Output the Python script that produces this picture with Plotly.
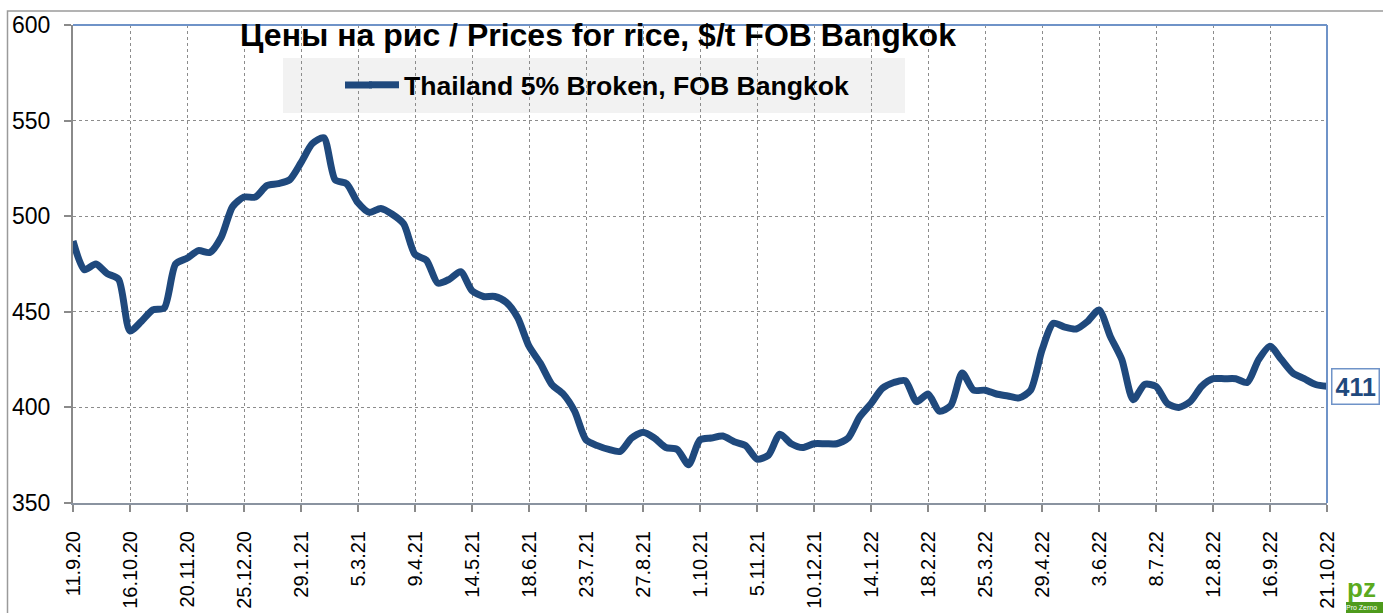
import pandas as pd
import plotly.graph_objects as go

# ---- data ----
start_date = "2020-09-11"
n_weeks = 111
prices = [487, 472, 475, 470, 467, 440, 445, 451, 452, 475,
          478, 482, 481, 489, 505, 510, 510, 516, 517, 519,
          528, 538, 541, 519, 517, 507, 502, 504, 501, 496,
          480, 477, 465, 467, 471, 461, 458, 458, 455, 447,
          432, 423, 412, 407, 398, 383, 380, 378, 377, 384,
          387, 384, 379, 378, 370, 383, 384, 385, 382, 380,
          373, 375, 386, 381, 379, 381, 381, 381, 384, 395,
          402, 410, 413, 414, 403, 407, 398, 401, 418, 409,
          409, 407, 406, 405, 409, 430, 444, 442, 441, 445,
          451, 437, 425, 404, 412, 411, 402, 400, 403, 411,
          415, 415, 415, 413, 425, 432, 425, 418, 415, 412,
          411]
tick_labels = ["11.9.20", "16.10.20", "20.11.20", "25.12.20", "29.1.21", "5.3.21",
               "9.4.21", "14.5.21", "18.6.21", "23.7.21", "27.8.21", "1.10.21",
               "5.11.21", "10.12.21", "14.1.22", "18.2.22", "25.3.22", "29.4.22",
               "3.6.22", "8.7.22", "12.8.22", "16.9.22", "21.10.22"]
series_name = "Thailand 5% Broken, FOB Bangkok"
title_text = "Цены на рис / Prices for rice, $/t FOB Bangkok"

dates = pd.date_range(start_date, periods=n_weeks, freq="7D")
tick_vals = list(dates[::5])

# ---- styling ----
W, H = 1383, 613
L, R, T, B = 73, 56, 25, 110
pw, ph = W - L - R, H - T - B
FONT = "Arial, Liberation Sans, sans-serif"
LINE_COLOR = "#1F497D"
BLUE_BORDER = "#6F93C8"
GRAY = "#8A8A8A"


def fx(px):
    return (px - L) / pw


def fy(py):
    return (H - B - py) / ph


fig = go.Figure()
fig.add_trace(go.Scatter(
    x=dates, y=prices, mode="lines", name=series_name,
    line=dict(color=LINE_COLOR, width=7, shape="spline", smoothing=0.7),
    showlegend=True,
))

shapes = [
    # outer frame
    dict(type="rect", xref="paper", yref="paper", x0=fx(7.5), x1=fx(1395),
         y0=fy(625), y1=fy(11), line=dict(color="#9A9A9A", width=1.5), layer="below"),
    # legend background
    dict(type="rect", xref="paper", yref="paper", x0=fx(283), x1=fx(905),
         y0=fy(113), y1=fy(58), fillcolor="#F2F2F2", line=dict(width=0), layer="below"),
    # top and right plot borders
    dict(type="line", xref="paper", yref="paper", x0=0, x1=1, y0=1, y1=1,
         line=dict(color=BLUE_BORDER, width=2)),
    dict(type="line", xref="paper", yref="paper", x0=1, x1=1, y0=0, y1=1,
         line=dict(color=BLUE_BORDER, width=2)),
    # longer legend line sample
    dict(type="line", xref="paper", yref="paper", x0=fx(345), x1=fx(372),
         y0=fy(85), y1=fy(85), line=dict(color=LINE_COLOR, width=7)),
    # logo block
    dict(type="rect", xref="paper", yref="paper", x0=fx(1346), x1=fx(1390),
         y0=fy(616), y1=fy(602), fillcolor="#4E9A1C", line=dict(width=0)),
]

annotations = [
    dict(text="<b>411</b>", x=dates[-1], y=prices[-1], xref="x", yref="y",
         xanchor="left", yanchor="middle", xshift=4, showarrow=False,
         font=dict(family=FONT, size=25, color=LINE_COLOR),
         bgcolor="white", bordercolor=BLUE_BORDER, borderwidth=1.5, borderpad=3),
    dict(text="<b>pz</b>", x=fx(1362), y=fy(588), xref="paper", yref="paper",
         xanchor="center", yanchor="middle", showarrow=False,
         font=dict(family=FONT, size=26, color="#5BAA1E")),
    dict(text="Pro Zerno", x=fx(1362), y=fy(608), xref="paper", yref="paper",
         xanchor="center", yanchor="middle", showarrow=False,
         font=dict(family=FONT, size=7, color="white")),
]

fig.update_layout(
    width=W, height=H,
    margin=dict(l=L, r=R, t=T, b=B, autoexpand=False),
    paper_bgcolor="white", plot_bgcolor="white",
    font=dict(family=FONT, color="black"),
    title=dict(text="<b>" + title_text + "</b>", x=fx(598), xref="paper",
               xanchor="center", y=1 - 35 / H, yref="container", yanchor="middle",
               font=dict(family=FONT, size=32, color="black")),
    legend=dict(x=fx(364), y=fy(85), xanchor="left", yanchor="middle",
                xref="paper", yref="paper",
                bgcolor="rgba(0,0,0,0)", borderwidth=0,
                font=dict(family=FONT, size=26.6, color="black", weight="bold")),
    shapes=shapes,
    annotations=annotations,
    xaxis=dict(
        type="date", range=[dates[0], dates[-1]],
        tickmode="array", tickvals=tick_vals, ticktext=tick_labels,
        tickangle=-90, ticks="outside", ticklen=7, tickcolor=GRAY, tickwidth=1.5,
        ticklabelstandoff=11,
        tickfont=dict(family=FONT, size=20, color="black"),
        showgrid=True, gridcolor="#8C8C8C", griddash="dot", gridwidth=1.2,
        showline=True, linecolor="#8A93A0", linewidth=2,
        zeroline=False,
    ),
    yaxis=dict(
        range=[350, 600], dtick=50, tick0=350,
        ticks="outside", ticklen=7, tickcolor=GRAY, tickwidth=1.5,
        ticklabelstandoff=9,
        tickfont=dict(family=FONT, size=23, color="black"),
        showgrid=True, gridcolor="#8C8C8C", griddash="dot", gridwidth=1.2,
        showline=True, linecolor=GRAY, linewidth=2,
        zeroline=False,
    ),
)

fig.write_html("out.html", config={"displayModeBar": False},
               post_script="document.body.style.margin='0';document.body.style.overflow='hidden';")
